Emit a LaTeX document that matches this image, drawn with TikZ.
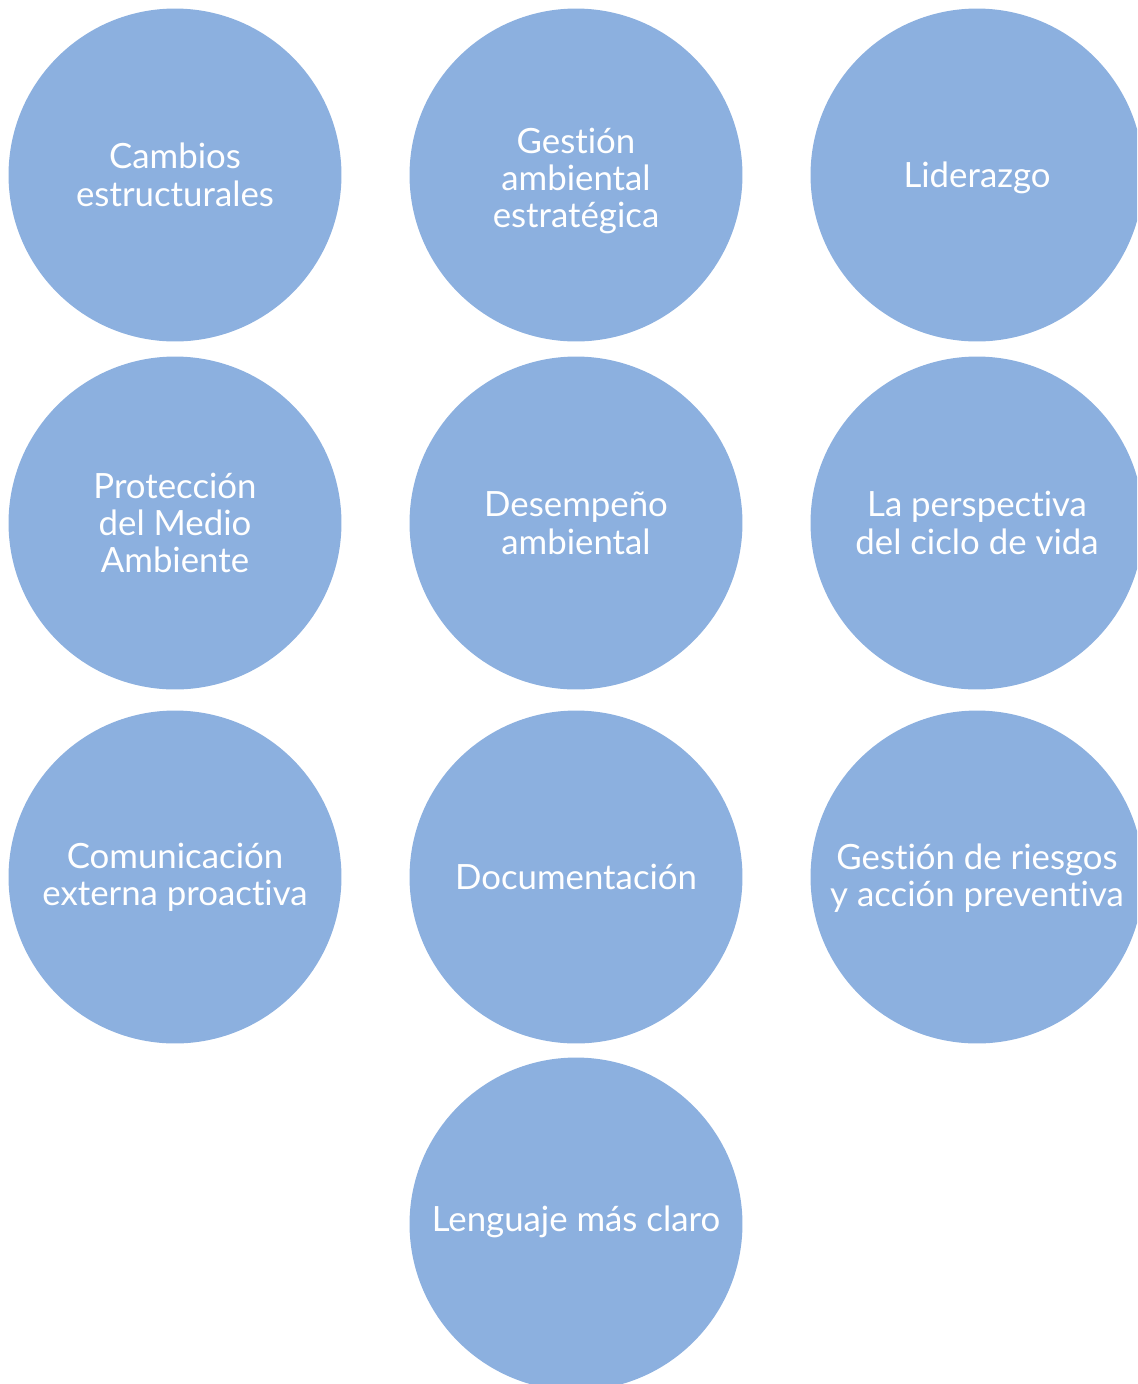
\documentclass[tikz,border=0pt]{standalone}
\usepackage{fontspec}
\setmainfont{Lato}[Ligatures={NoCommon}]
\usepackage{xcolor}
\definecolor{bubblue}{HTML}{8CB0DF}

\begin{document}
\begin{tikzpicture}[x=0.02cm,y=-0.02cm,
	bubble/.style={circle,fill=bubblue,minimum size=6.66cm,inner sep=0pt},
	caption/.style={text=white,align=center,inner sep=0pt,font=\fontsize{19.8}{21.3}\selectfont}]
				\useasboundingbox (0,0) rectangle (1137,1384);
				\clip (0,0) rectangle (1137,1384);
				\coordinate (c1) at (175,175);%Cambios
				\coordinate (c2) at (576,175);%Gestion
				\coordinate (c3) at (977,175);%Liderazgo
				\coordinate (c4) at (175,523);%Proteccion
				\coordinate (c5) at (576,523);%Desempeno
				\coordinate (c6) at (977,523);%Ciclo de vida
				\coordinate (c7) at (175,877);%Comunicacion
				\coordinate (c8) at (576,877);%Documentacion
				\coordinate (c9) at (977,877);%Riesgos
				\coordinate (c10) at (576,1224);%Lenguaje
				
				\foreach \i in {1,...,10}
					\node[bubble] (b\i) at (c\i) {};
				
				\node[caption] (t1) at (b1) {Cambios\\estructurales};
				\node[caption] (t2) at ([yshift=-0.12cm]b2.center) {Gestión\\ambiental\\estratégica};
				\node[caption] (t3) at ([yshift=-0.06cm]b3.center) {Liderazgo};
				\node[caption] (t4) at (b4) {Protección\\del Medio\\Ambiente};
				\node[caption] (t5) at (b5) {Desempeño\\ambiental};
				\node[caption] (t6) at (b6) {La perspectiva\\del ciclo de vida};
				\node[caption] (t7) at (b7) {Comunicación\\externa proactiva};
				\node[caption] (t8) at (b8) {Documentación};
				\node[caption] (t9) at ([yshift=-0.02cm]b9.center) {Gestión de riesgos\\y acción preventiva};
				\node[caption] (t10) at ([yshift=0.04cm]b10.center) {Lenguaje más claro};
			\end{tikzpicture}
\end{document}
